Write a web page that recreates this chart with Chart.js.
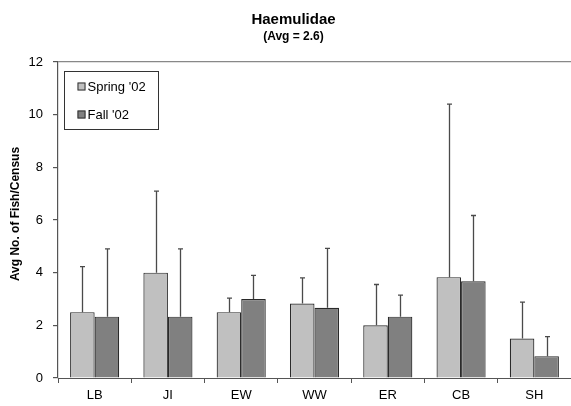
<!DOCTYPE html>
<html>
<head>
<meta charset="utf-8">
<script src="https://cdn.jsdelivr.net/npm/chart.js@4.4.1/dist/chart.umd.min.js"></script>
<style>
  html, body { margin:0; padding:0; background:#fff; }
  #wrap { width:571px; height:406px; }
</style>
</head>
<body>
<div id="wrap"><canvas id="chart"></canvas></div>
<script>
// Haemulidae census — mean fish per census by site, two seasons
const sites = ['LB', 'JI', 'EW', 'WW', 'ER', 'CB', 'SH'];
const springMeans = [2.5, 4.0, 2.5, 2.83, 2.0, 3.83, 1.5];
const springUpper = [4.23, 7.1, 3.03, 3.8, 3.55, 10.4, 2.88];
const fallMeans = [2.33, 2.33, 3.0, 2.67, 2.33, 3.67, 0.83];
const fallUpper = [4.9, 4.9, 3.9, 4.92, 3.15, 6.17, 1.57];
const yTicks = [0, 2, 4, 6, 8, 10, 12];

const FONT = "'Liberation Sans', Arial, sans-serif";

// one-sided (upward) error bars, drawn from each bar top to its upper value
const errorBars = {
  id: 'errorBars',
  afterDatasetsDraw(chart) {
    const ctx = chart.ctx, y = chart.scales.y;
    const uppers = [springUpper, fallUpper];
    ctx.save();
    ctx.strokeStyle = '#4a4a4a';
    ctx.lineWidth = 1.3;
    chart.data.datasets.forEach((ds, i) => {
      chart.getDatasetMeta(i).data.forEach((bar, j) => {
        const x = Math.round(bar.x) + 0.5;
        const top = y.getPixelForValue(uppers[i][j]);
        ctx.beginPath();
        ctx.moveTo(x, bar.y);
        ctx.lineTo(x, top);
        ctx.moveTo(x - 2.5, top);
        ctx.lineTo(x + 2.5, top);
        ctx.stroke();
      });
    });
    ctx.restore();
  }
};

// titles, y-axis caption and boxed legend
const decorations = {
  id: 'decorations',
  afterDraw(chart) {
    const ctx = chart.ctx, a = chart.chartArea;
    ctx.save();
    ctx.fillStyle = '#000';
    ctx.textAlign = 'center';
    ctx.textBaseline = 'middle';
    const cx = (a.left + a.right) / 2 - 21;
    ctx.font = 'bold 15px ' + FONT;
    ctx.fillText('Haemulidae', cx, 20);
    ctx.font = 'bold 12px ' + FONT;
    ctx.fillText('(Avg = 2.6)', cx, 37);

    ctx.save();
    ctx.translate(16, (a.top + a.bottom) / 2 - 6);
    ctx.rotate(-Math.PI / 2);
    ctx.font = 'bold 12px ' + FONT;
    ctx.fillText('Avg No. of Fish/Census', 0, 0);
    ctx.restore();

    // legend box
    const lx = a.left + 6.5, ly = a.top + 9.5;
    ctx.strokeStyle = '#333';
    ctx.lineWidth = 1;
    ctx.strokeRect(lx, ly, 94, 58);
    ctx.font = '13px ' + FONT;
    ctx.textAlign = 'left';
    chart.data.datasets.forEach((ds, i) => {
      const rowY = ly + 15 + i * 28;
      ctx.fillStyle = ds.backgroundColor;
      ctx.fillRect(lx + 13, rowY - 4, 8, 8);
      ctx.strokeStyle = '#333';
      ctx.strokeRect(lx + 13.5, rowY - 3.5, 7, 7);
      ctx.fillStyle = '#000';
      ctx.fillText(ds.label, lx + 23, rowY + 1);
    });
    ctx.restore();
  }
};

new Chart(document.getElementById('chart'), {
  type: 'bar',
  data: {
    labels: sites,
    datasets: [
      { label: "Spring '02", data: springMeans, backgroundColor: '#c0c0c0',
        borderColor: '#2a2a2a', borderWidth: 1.2 },
      { label: "Fall '02", data: fallMeans, backgroundColor: '#808080',
        borderColor: '#2a2a2a', borderWidth: 1.2 }
    ]
  },
  options: {
    responsive: true,
    maintainAspectRatio: false,
    animation: false,
    layout: { padding: { top: 62, right: 0, bottom: 0, left: 0 } },
    datasets: { bar: { categoryPercentage: 0.67, barPercentage: 1 } },
    plugins: { legend: { display: false }, tooltip: { enabled: false } },
    scales: {
      x: {
        offset: true,
        grid: { offset: true, drawOnChartArea: false, tickLength: 5, color: '#555' },
        border: { color: '#555', width: 1 },
        ticks: { color: '#000', font: { family: FONT, size: 13 }, padding: 5 },
        afterFit: s => { s.height = 28; }
      },
      y: {
        min: 0, max: 12,
        afterBuildTicks: s => { s.ticks = yTicks.map(v => ({ value: v })); },
        grid: {
          color: c => c.tick.value === 12 ? '#888' : 'rgba(0,0,0,0)',
          tickColor: '#555', tickLength: 5, lineWidth: 1.2
        },
        border: { color: '#555', width: 1.2 },
        ticks: { color: '#000', font: { family: FONT, size: 13 }, padding: 10 },
        afterFit: s => { s.width = 58; }
      }
    }
  },
  plugins: [errorBars, decorations]
});
</script>
</body>
</html>
